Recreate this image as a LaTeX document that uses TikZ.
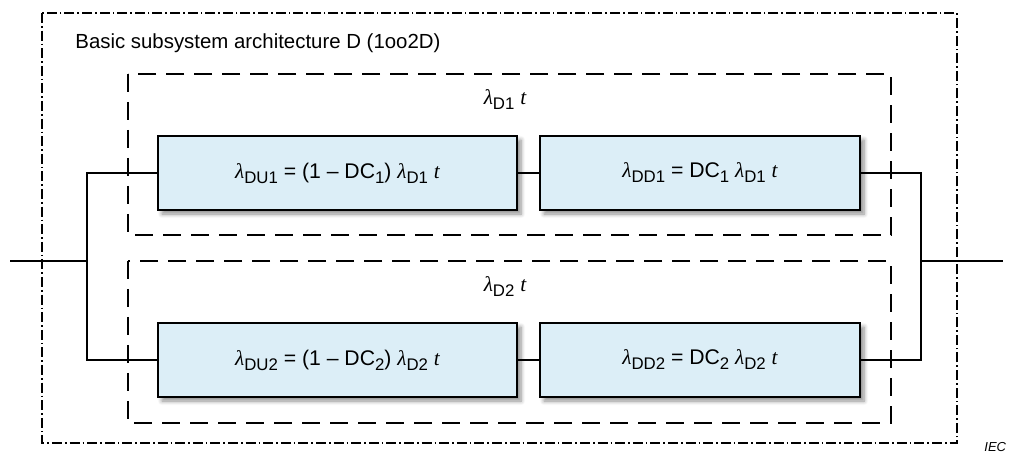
\documentclass[tikz,border=0pt]{standalone}
\usepackage{fontspec}
\setmainfont{Liberation Sans}
\newfontfamily\serifgreek{Liberation Serif}
\usetikzlibrary{shadows.blur}

\definecolor{boxblue}{RGB}{220,238,247}

% subscript, lambda with upright subscript, and the italic t
\newcommand{\sub}[1]{\raisebox{-0.45ex}{\fontsize{8.4}{9}\selectfont #1}}
\newcommand{\lmb}[1]{{\serifgreek\itshape λ}\sub{#1}}
\newcommand{\tvar}{{\serifgreek\itshape t}}

\begin{document}
\begin{tikzpicture}[x=0.5pt,y=-0.5pt,
  font=\fontsize{10.6}{12}\selectfont,
  wire/.style={line width=1pt},
  block/.style={draw, line width=1.2pt, fill=boxblue, minimum height=37pt,
    inner sep=0pt, blur shadow={shadow xshift=2pt, shadow yshift=-2pt,
    shadow blur steps=6, shadow opacity=45}},
  channel/.style={line width=1pt, dash pattern=on 9pt off 5pt},
  frame/.style={line width=0.8pt, dash pattern=on 5pt off 1.5pt on 0.8pt off 1.5pt}]
\useasboundingbox (0,0) rectangle (1014,454);

% Outer frame
\draw[frame] (42,13) rectangle (957,443);
\node[anchor=base west, inner sep=0pt, font=\fontsize{10.2}{12}\selectfont] (title) at (75,49) {Basic subsystem architecture D (1oo2D)};

% Channel frames
\draw[channel] (128,74) rectangle (891,235);
\draw[channel] (128,261) rectangle (891,423);
\node (ch1) at (505,100) {\lmb{D1} \tvar};
\node (ch2) at (505,287) {\lmb{D2} \tvar};

% Blocks
\node[block, minimum width=179.5pt] (du1) at (337.5,173) {\lmb{DU1} = (1 – DC\sub{1}) \lmb{D1} \tvar};
\node[block, minimum width=160pt] (dd1) at (700,173) {\lmb{DD1} = DC\sub{1} \lmb{D1} \tvar};
\node[block, minimum width=179.5pt] (du2) at (337.5,360) {\lmb{DU2} = (1 – DC\sub{2}) \lmb{D2} \tvar};
\node[block, minimum width=160pt] (dd2) at (700,360) {\lmb{DD2} = DC\sub{2} \lmb{D2} \tvar};

% Terminals and junctions
\coordinate (in) at (10,261);
\coordinate (jl) at (87,261);
\coordinate (jr) at (921,261);
\coordinate (out) at (1003,261);

% Wires
\draw[wire] (in) -- (jl);
\draw[wire] (du1.west) -| (jl) |- (du2.west);
\draw[wire] (du1) -- (dd1);
\draw[wire] (du2) -- (dd2);
\draw[wire] (dd1.east) -| (jr) |- (dd2.east);
\draw[wire] (jr) -- (out);

\node[anchor=south west, inner sep=0pt, font=\fontsize{6.5}{7}\selectfont\itshape] (iec) at (984,452) {IEC};
\end{tikzpicture}
\end{document}
